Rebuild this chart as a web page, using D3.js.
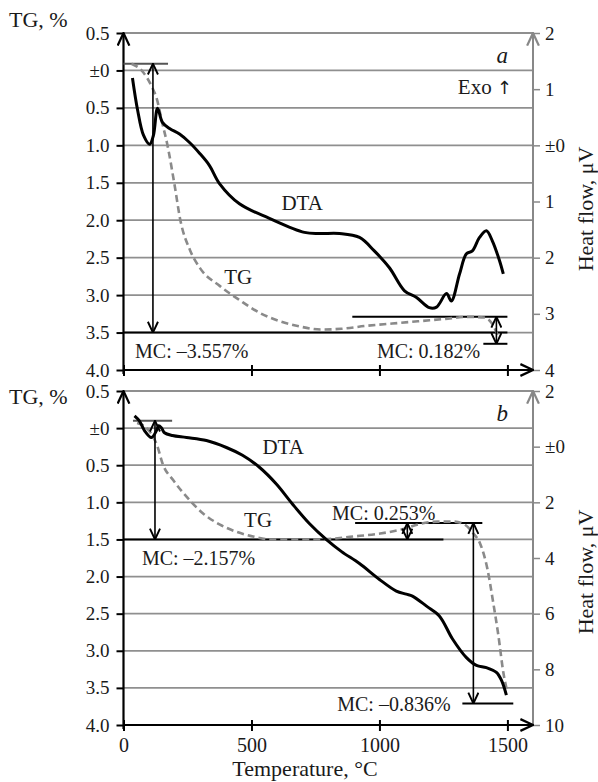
<!DOCTYPE html>
<html>
<head>
<meta charset="utf-8">
<script src="https://cdn.jsdelivr.net/npm/d3@7"></script>
<style>
  body { margin: 0; background: #fff; }
  svg text { font-family: "Liberation Serif", "Times New Roman", Times, "DejaVu Serif", serif; fill: #1a1a1a; }
</style>
</head>
<body>
<div id="chart"></div>
<script>
// ---- data ----
const tempTicks = [0, 500, 1000, 1500];
const tgTicks = [0.5, 0, -0.5, -1, -1.5, -2, -2.5, -3, -3.5, -4];
const heatTicksA = [2, 1, 0, -1, -2, -3, -4];
const heatTicksB = [2, 0, -2, -4, -6, -8, -10];

// [temperature °C, heat flow µV]
const dtaA = [[35,1.20],[55,0.63],[78,0.18],[102,0.02],[117,0.18],[133,0.66],[152,0.41],[180,0.30],
  [219,0.20],[258,0.05],[297,-0.14],[336,-0.36],[375,-0.68],[453,-1.04],[570,-1.30],[707,-1.55],
  [766,-1.57],[844,-1.57],[922,-1.64],[980,-1.88],[1039,-2.18],[1098,-2.59],[1145,-2.71],[1195,-2.89],
  [1223,-2.88],[1262,-2.64],[1281,-2.77],[1313,-2.29],[1340,-1.93],[1363,-1.88],[1391,-1.64],
  [1418,-1.52],[1441,-1.70],[1469,-2.05],[1484,-2.29]];
// [temperature °C, mass change %]
const tgA = [[31,0.09],[76,-0.02],[111,-0.22],[131,-0.39],[150,-0.68],[170,-0.97],[201,-1.56],
  [221,-1.98],[260,-2.4],[299,-2.64],[377,-2.88],[455,-3.07],[534,-3.24],[612,-3.35],[690,-3.42],
  [770,-3.46],[850,-3.45],[950,-3.41],[1050,-3.38],[1150,-3.35],[1250,-3.32],[1350,-3.29],
  [1410,-3.30],[1440,-3.38],[1465,-3.56]];

const dtaB = [[43,1.11],[62,0.93],[82,0.58],[109,0.33],[129,0.58],[137,0.75],[148,0.68],[160,0.50],
  [191,0.40],[246,0.33],[324,0.22],[402,-0.03],[465,-0.31],[531,-0.74],[598,-1.35],[660,-2.06],
  [727,-2.77],[793,-3.34],[852,-3.77],[922,-4.20],[1000,-4.77],[1066,-5.19],[1105,-5.30],[1129,-5.37],
  [1184,-5.73],[1234,-6.08],[1285,-6.90],[1340,-7.58],[1379,-7.86],[1418,-7.94],[1457,-8.11],
  [1477,-8.40],[1496,-8.93]];
const tgB = [[53,0.07],[84,0.02],[111,-0.09],[131,-0.23],[154,-0.49],[194,-0.70],[248,-0.93],
  [311,-1.15],[377,-1.30],[444,-1.40],[506,-1.46],[573,-1.50],[639,-1.50],[768,-1.50],[897,-1.46],
  [1003,-1.42],[1093,-1.36],[1160,-1.29],[1226,-1.26],[1289,-1.26],[1328,-1.29],[1367,-1.42],
  [1394,-1.56],[1422,-1.90],[1445,-2.36],[1465,-2.80],[1484,-3.29],[1500,-3.56]];

// mass-change marks: lines [t0, t1, tg, colour], arrows [t, tg0, tg1], labels [text, t, tg, anchor]
const linesA = [[0, 174, 0.09, "#555"], [0, 1500, -3.5, "#000"], [894, 1500, -3.29, "#000"], [1406, 1500, -3.65, "#000"]];
const arrowsA = [[115, 0.09, -3.5], [1457, -3.29, -3.65]];
const labelsA = [["MC: –3.557%", 45, -3.84, "start"], ["MC: 0.182%", 1394, -3.84, "end"],
  ["DTA", 698, -1.86, "middle"], ["TG", 448, -2.85, "middle"]];

const linesB = [[37, 190, 0.1, "#555"], [0, 1250, -1.5, "#000"], [905, 1402, -1.28, "#000"], [1324, 1523, -3.71, "#000"]];
const arrowsB = [[123, 0.1, -1.5], [1109, -1.28, -1.5], [1367, -1.28, -3.71]];
const labelsB = [["MC: –2.157%", 72, -1.84, "start"], ["MC: 0.253%", 815, -1.24, "start"],
  ["MC: –0.836%", 835, -3.81, "start"], ["DTA", 624, -0.35, "middle"], ["TG", 526, -1.33, "middle"]];

// ---- layout ----
const W = 598, H = 782;
const left = 123.5, right = 533;
const gridColor = "#8f8f8f";
const FONT = "'Liberation Serif', 'Times New Roman', Times, 'DejaVu Serif', serif";

const svg = d3.select("#chart").append("svg")
  .attr("width", W).attr("height", H)
  .attr("font-family", FONT);

const defs = svg.append("defs");
function chevron(id, size, color) {
  defs.append("marker")
    .attr("id", id)
    .attr("viewBox", "0 0 10 10")
    .attr("refX", 9.5).attr("refY", 5)
    .attr("markerUnits", "userSpaceOnUse")
    .attr("markerWidth", size).attr("markerHeight", size)
    .attr("orient", "auto-start-reverse")
    .append("path")
    .attr("d", "M0.5,0.8 L9.5,5 L0.5,9.2")
    .attr("fill", "none").attr("stroke", color).attr("stroke-width", 1.6);
}
chevron("axisArrow", 14, "#000");
chevron("axisArrowGrey", 14, "#888");
chevron("mcArrow", 12, "#000");

const x = d3.scaleLinear().domain([0, 1600]).range([left, right]);

function styleTicks(sel) {
  sel.attr("font-family", FONT);
  sel.selectAll("text").attr("font-size", 19).attr("fill", "#1a1a1a").attr("font-family", FONT);
}

function drawPanel(cfg) {
  const g = svg.append("g");
  const yTg = d3.scaleLinear().domain([0.5, -4]).range([cfg.top, cfg.bottom]);
  const yHeat = d3.scaleLinear().domain(cfg.heatDomain).range([cfg.top, cfg.bottom]);

  // horizontal grid at every TG step
  g.selectAll(".grid").data(tgTicks.slice(0, -1)).enter().append("line")
    .attr("x1", left).attr("x2", right)
    .attr("y1", d => yTg(d)).attr("y2", d => yTg(d))
    .attr("stroke", gridColor).attr("stroke-width", 1.8);

  // right axis (heat flow)
  const ra = g.append("g")
    .attr("transform", `translate(${right},0)`)
    .call(d3.axisRight(yHeat).tickValues(cfg.heatTicks).tickSize(7).tickPadding(5)
      .tickFormat(d => d === 0 ? "±0" : Math.abs(d)));
  ra.select(".domain").remove();
  ra.selectAll("line").attr("stroke", "#888").attr("stroke-width", 1.5);
  styleTicks(ra);
  g.append("line")
    .attr("x1", right).attr("x2", right)
    .attr("y1", cfg.bottom).attr("y2", cfg.top)
    .attr("stroke", "#888").attr("stroke-width", 2)
    .attr("marker-end", "url(#axisArrowGrey)");

  // left axis (TG)
  const la = g.append("g")
    .attr("transform", `translate(${left},0)`)
    .call(d3.axisLeft(yTg).tickValues(tgTicks).tickSize(7).tickPadding(7)
      .tickFormat(d => d === 0 ? "±0" : Math.abs(d).toFixed(1)));
  la.select(".domain").remove();
  la.selectAll("line").attr("stroke", "#000").attr("stroke-width", 2);
  styleTicks(la);
  g.append("line")
    .attr("x1", left).attr("x2", left)
    .attr("y1", cfg.bottom + 4).attr("y2", cfg.top)
    .attr("stroke", "#000").attr("stroke-width", 2.2)
    .attr("marker-end", "url(#axisArrow)");

  // x axis
  const xa = g.append("g")
    .attr("transform", `translate(0,${cfg.bottom})`)
    .call(d3.axisBottom(x).tickValues(tempTicks).tickSize(6).tickPadding(7)
      .tickFormat(cfg.xLabels ? d3.format("d") : ""));
  xa.select(".domain").remove();
  xa.selectAll("line").attr("y1", -5).attr("stroke", "#000").attr("stroke-width", 2);
  styleTicks(xa);
  xa.selectAll("text").attr("font-size", 20);
  g.append("line")
    .attr("x1", left).attr("x2", right)
    .attr("y1", cfg.bottom).attr("y2", cfg.bottom)
    .attr("stroke", "#000").attr("stroke-width", 2.2)
    .attr("marker-end", "url(#axisArrow)");

  // mass-change reference lines
  g.selectAll(".mcline").data(cfg.lines).enter().append("line")
    .attr("x1", d => x(d[0])).attr("x2", d => x(d[1]))
    .attr("y1", d => yTg(d[2])).attr("y2", d => yTg(d[2]))
    .attr("stroke", d => d[3]).attr("stroke-width", 2);

  // TG curve (dashed)
  g.append("path").datum(cfg.tg)
    .attr("fill", "none").attr("stroke", "#8a8a8a").attr("stroke-width", 2.6)
    .attr("stroke-dasharray", "7,4")
    .attr("d", d3.line().x(d => x(d[0])).y(d => yTg(d[1])).curve(d3.curveMonotoneX));

  // DTA curve
  g.append("path").datum(cfg.dta)
    .attr("fill", "none").attr("stroke", "#000").attr("stroke-width", 3)
    .attr("stroke-linejoin", "round")
    .attr("d", d3.line().x(d => x(d[0])).y(d => yHeat(d[1])).curve(d3.curveCatmullRom.alpha(0.5)));

  // double-headed arrows
  g.selectAll(".mcarrow").data(cfg.arrows).enter().append("line")
    .attr("x1", d => x(d[0])).attr("x2", d => x(d[0]))
    .attr("y1", d => yTg(d[1])).attr("y2", d => yTg(d[2]))
    .attr("stroke", "#000").attr("stroke-width", 1.6)
    .attr("marker-start", "url(#mcArrow)").attr("marker-end", "url(#mcArrow)");

  // labels
  g.selectAll(".lab").data(cfg.labels).enter().append("text")
    .attr("x", d => x(d[1])).attr("y", d => yTg(d[2]))
    .attr("text-anchor", d => d[3])
    .attr("font-size", d => d[0].startsWith("MC") ? 20 : 21)
    .text(d => d[0]);

  // panel letter
  g.append("text")
    .attr("x", 508).attr("y", cfg.top + 30)
    .attr("text-anchor", "end").attr("font-size", 23).attr("font-style", "italic")
    .text(cfg.letter);

  // axis titles
  svg.append("text")
    .attr("x", 9).attr("y", cfg.titleY)
    .attr("font-size", 22).text("TG, %");
  svg.append("text")
    .attr("transform", `translate(593,${cfg.heatLabelY}) rotate(-90)`)
    .attr("text-anchor", "middle").attr("font-size", 22)
    .text("Heat flow, μV");
  return g;
}

const gA = drawPanel({
  top: 33, bottom: 370, titleY: 27, heatLabelY: 209, heatDomain: [2, -4], heatTicks: heatTicksA,
  dta: dtaA, tg: tgA, lines: linesA, arrows: arrowsA, labels: labelsA,
  letter: "a", xLabels: false
});
const exo = gA.append("text")
  .attr("x", 512).attr("y", 94)
  .attr("text-anchor", "end").attr("font-size", 21);
exo.append("tspan").text("Exo ");
exo.append("tspan")
  .attr("font-family", "'DejaVu Sans', 'DejaVu Serif', sans-serif")
  .attr("font-size", 18).attr("fill", "#1a1a1a")
  .text("\u2191\uFE0E");

drawPanel({
  top: 391, bottom: 725, titleY: 404, heatLabelY: 572, heatDomain: [2, -10], heatTicks: heatTicksB,
  dta: dtaB, tg: tgB, lines: linesB, arrows: arrowsB, labels: labelsB,
  letter: "b", xLabels: true
});

svg.append("text")
  .attr("x", 305).attr("y", 776)
  .attr("text-anchor", "middle").attr("font-size", 22)
  .text("Temperature, °C");
</script>
</body>
</html>
